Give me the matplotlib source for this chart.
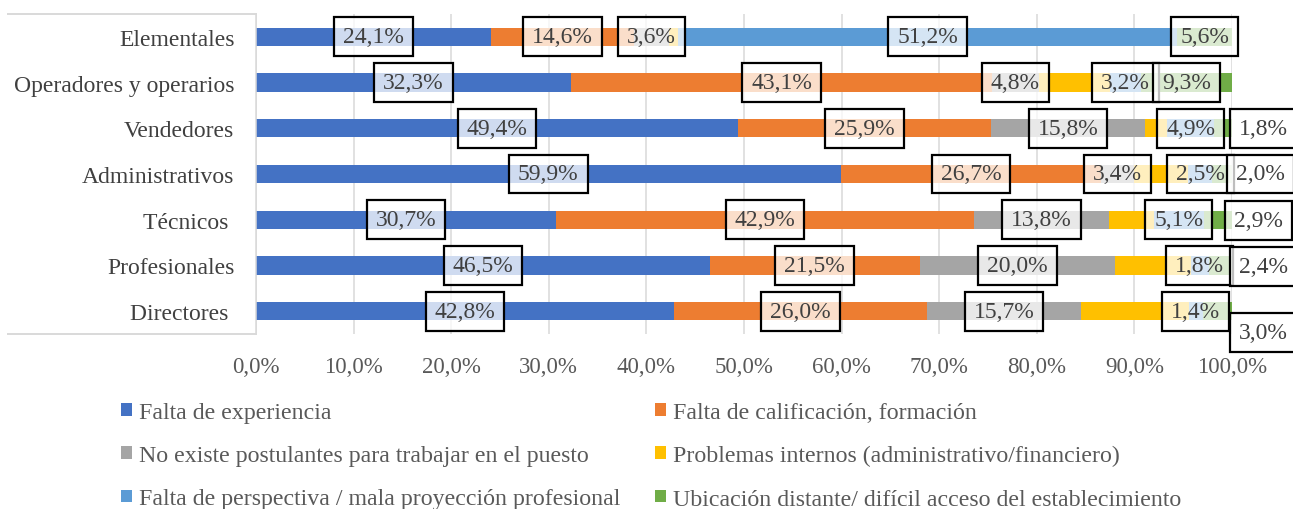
import matplotlib
matplotlib.use('Agg')
import matplotlib.pyplot as plt
from matplotlib.patches import Patch
from matplotlib.lines import Line2D

plt.rcParams['font.family'] = ['Liberation Serif', 'DejaVu Serif']

# categories, top to bottom as shown
categories = ['Elementales', 'Operadores y operarios', 'Vendedores', 'Administrativos',
              'Técnicos ', 'Profesionales', 'Directores ']

series_names = ['Falta de experiencia',
                'Falta de calificación, formación',
                'No existe postulantes para trabajar en el puesto',
                'Problemas internos (administrativo/financiero)',
                'Falta de perspectiva / mala proyección profesional',
                'Ubicación distante/ difícil acceso del establecimiento']

experiencia = [24.1, 32.3, 49.4, 59.9, 30.7, 46.5, 42.8]
calificacion = [14.6, 43.1, 25.9, 26.7, 42.9, 21.5, 26.0]
postulantes = [3.6, 4.8, 15.8, 3.4, 13.8, 20.0, 15.7]
internos = [0.9, 7.3, 2.2, 5.5, 4.6, 7.8, 11.1]
perspectiva = [51.2, 3.2, 4.9, 2.5, 5.1, 1.8, 1.4]
ubicacion = [5.6, 9.3, 1.8, 2.0, 2.9, 2.4, 3.0]

xticks = [0, 10, 20, 30, 40, 50, 60, 70, 80, 90, 100]

series = [experiencia, calificacion, postulantes, internos, perspectiva, ubicacion]
colors = ['#4472C4', '#ED7D31', '#A5A5A5', '#FFC000', '#5B9BD5', '#70AD47']
labeled = [True, True, True, False, True, True]

# labels the author dragged away from the bar: (row, series) -> (x, dy)
moved = {(2, 5): (103.2, 0.0), (3, 5): (102.9, 0.0), (4, 5): (102.7, 0.02),
         (5, 5): (103.2, 0.03), (6, 5): (103.2, 0.46)}

W, H = 1293, 510
fig = plt.figure(figsize=(W / 100, H / 100), dpi=100)
ax = fig.add_axes([256 / W, 1 - 335 / H, 976 / W, 320 / H])

ypos = list(range(len(categories)))
left = [0.0] * len(categories)
for s, (vals, col) in enumerate(zip(series, colors)):
    ax.barh(ypos, vals, left=left, height=0.4, color=col, zorder=2)
    if labeled[s]:
        for i, v in enumerate(vals):
            x = left[i] + v / 2
            dy = 0
            if (i, s) in moved:
                x, dy = moved[(i, s)]
            ax.text(x, i + dy, f'{v:.1f}%'.replace('.', ','), ha='center', va='center',
                    fontsize=17, color='#404040', zorder=5,
                    bbox=dict(boxstyle='square,pad=0.38', facecolor=(1, 1, 1, 0.75),
                              edgecolor='black', linewidth=1.6))
    left = [a + b for a, b in zip(left, vals)]

ax.set_xlim(0, 100)
ax.set_ylim(len(categories) - 0.5, -0.5)
ax.set_xticks(xticks)
ax.set_xticklabels([f'{t:.1f}%'.replace('.', ',') for t in xticks])
ax.set_yticks(ypos)
ax.set_yticklabels(categories)
ax.tick_params(axis='x', length=0, pad=15.5, labelsize=16.5, labelcolor='#595959')
ax.tick_params(axis='y', length=0, pad=15.5, labelsize=17, labelcolor='#404040')
ax.grid(axis='x', color='#D9D9D9', linewidth=1.1, zorder=0)
ax.set_axisbelow(True)
for side in ['top', 'right', 'bottom']:
    ax.spines[side].set_visible(False)
ax.spines['left'].set_color('#D9D9D9')
ax.spines['left'].set_linewidth(1.1)

# light frame round the category labels
for yy in [15, 335]:
    fig.add_artist(Line2D([8 / W, 256 / W], [1 - yy / H, 1 - yy / H],
                          color='#D9D9D9', linewidth=1.4))

handles = [Patch(facecolor=c, edgecolor='none') for c in colors]
order = [0, 2, 4, 1, 3, 5]
leg = fig.legend([handles[k] for k in order], [series_names[k] for k in order],
                 ncol=2, loc='upper left', bbox_to_anchor=(121 / W, 1 - 403 / H),
                 frameon=False, fontsize=17.2, handlelength=0.45, handleheight=0.45,
                 handletextpad=0.3, columnspacing=1.45, labelspacing=0.93,
                 borderpad=0, borderaxespad=0)
for t in leg.get_texts():
    t.set_color('#595959')

fig.savefig('out.png', dpi=100)
